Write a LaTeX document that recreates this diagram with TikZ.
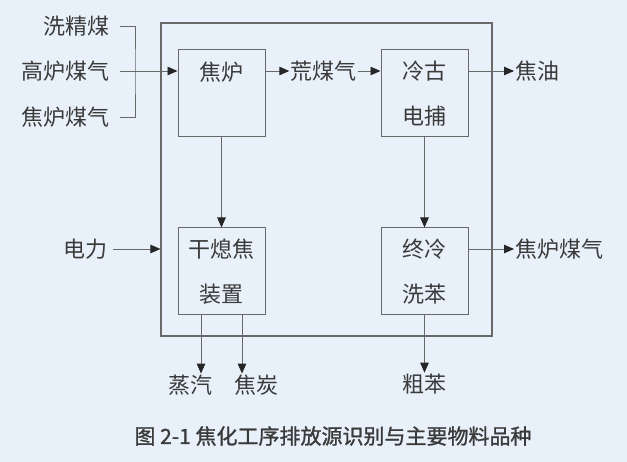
\documentclass[tikz,border=0pt]{standalone}
\usepackage{fontspec}
\setmainfont{Noto Sans CJK SC}
\newfontfamily\capfont[FakeBold=1.2]{Noto Sans CJK SC}
\usetikzlibrary{arrows.meta, positioning}
\definecolor{bgblue}{RGB}{232, 241, 250}
\definecolor{linegray}{RGB}{105, 105, 105}
\definecolor{txtgray}{RGB}{58, 58, 58}

\begin{document}
\begin{tikzpicture}[x=1pt, y=-1pt,
    unit/.style={draw=linegray, line width=1pt, minimum width=87pt,
                 minimum height=87pt, inner sep=0pt, align=center,
                 font=\fontsize{22}{45}\selectfont, text=txtgray},
    zone/.style={draw=linegray, line width=1.1pt, minimum width=331pt,
                 minimum height=313pt, inner sep=0pt},
    lbl/.style={inner sep=1pt, font=\fontsize{22}{26}\selectfont, text=txtgray},
    wire/.style={draw=linegray, line width=0.9pt},
    arr/.style={wire, -{Triangle[length=10pt, width=8.5pt, color=black!85]}}
  ]
    \fill[bgblue] (0, 0) rectangle (627, 462);

    \node[zone] (zone) at (326.5, 179.5) {};

    \node[unit] (jiaolu) at (221.5, 93.5) {焦炉\\\mbox{}};
    \node[unit] (lgdb) at (424.5, 93.5) {冷古\\电捕};
    \node[unit] (gxj) at (221.5, 271.5) {干熄焦\\装置};
    \node[unit] (zlxb) at (424.5, 271.5) {终冷\\洗苯};

    % inputs
    \node[lbl, anchor=east] (xjm) at (111, 26) {洗精煤};
    \node[lbl, anchor=east] (glmq) at (111, 71) {高炉煤气};
    \node[lbl, anchor=east] (jlmqin) at (111, 117) {焦炉煤气};
    \node[lbl, anchor=east] (dl) at (109, 249) {电力};
    \coordinate (brk) at (135, 71);

    % products
    \node[lbl] (hmq) at (323.5, 71) {荒煤气};
    \node[lbl, anchor=west] (jy) at (514, 71) {焦油};
    \node[lbl, anchor=west] (jlmqout) at (514, 249) {焦炉煤气};
    \node[lbl] (zq) at (190, 385) {蒸汽};
    \node[lbl] (jt) at (256, 385) {焦炭};
    \node[lbl] (cb) at (424.5, 384) {粗苯};

    \node[font=\capfont\fontsize{21}{25}\selectfont, text=txtgray] (caption)
        at (333, 436) {图 2-1 焦化工序排放源识别与主要物料品种};

    \draw[wire] ([xshift=9pt]xjm.east) -| (brk) |- ([xshift=9pt]jlmqin.east);
    \draw[arr] ([xshift=9pt]glmq.east) -- (glmq -| jiaolu.west);
    \draw[arr] ([xshift=4pt]dl.east) -- (dl -| zone.west);

    \draw[arr] (hmq -| jiaolu.east) -- (hmq.west);
    \draw[arr] (hmq.east) -- (hmq -| lgdb.west);
    \draw[arr] (jy -| lgdb.east) -- (jy.west);
    \draw[arr] (jiaolu.south) -- (gxj.north);
    \draw[arr] (lgdb.south) -- (zlxb.north);
    \draw[arr] (jlmqout -| zlxb.east) -- (jlmqout.west);

    \draw[arr] ([xshift=-20.5pt]gxj.south) -- ([xshift=-20.5pt]gxj.south |- zq.north);
    \draw[arr] ([xshift=20.5pt]gxj.south) -- ([xshift=20.5pt]gxj.south |- jt.north);
    \draw[arr] (zlxb.south) -- (cb.north);
  \end{tikzpicture}
\end{document}
